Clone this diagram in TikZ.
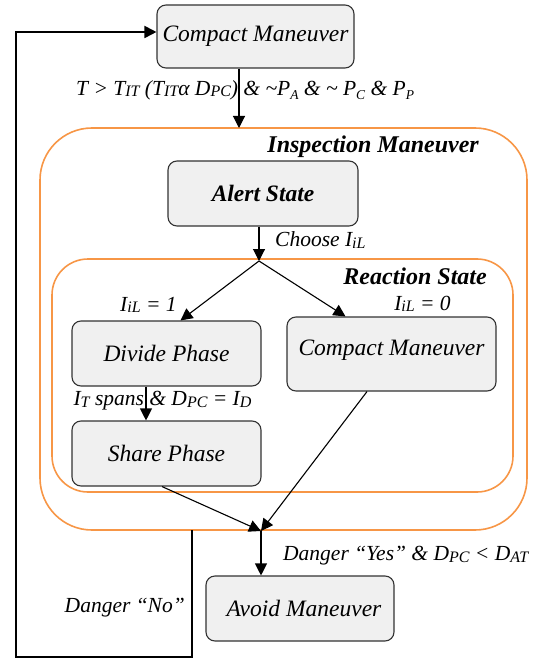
\documentclass[tikz,border=0pt]{standalone}
\usepackage{fontspec}
\setmainfont{Liberation Serif}
\usetikzlibrary{arrows.meta,calc}
\definecolor{boxfill}{HTML}{F0F0F0}
\definecolor{boxline}{HTML}{333333}
\definecolor{frameorange}{HTML}{F79646}
% index set slightly below the baseline, and a deeper, smaller one
\newcommand{\sbs}[1]{\raisebox{-1.5pt}{\fontsize{16}{16}\selectfont #1}}
\newcommand{\dsub}[1]{\raisebox{-4pt}{\fontsize{13.5}{14}\selectfont #1}}
\newcommand{\boxfont}{\fontsize{23.5}{27}\selectfont\itshape}
\newcommand{\lblfont}{\fontsize{21.5}{25}\selectfont\itshape}
\newcommand{\ttlfont}{\fontsize{24}{28}\selectfont\bfseries\itshape}

\begin{document}
\begin{tikzpicture}[x=1pt,y=-1pt,
  statebox/.style={draw=boxline, fill=boxfill, line width=1.1pt,
    rounded corners=9pt, inner sep=0pt, font=\boxfont},
  frame/.style={draw=frameorange, line width=1.6pt},
  flow/.style={draw=black, line width=1.1pt,
    -{Triangle[length=12pt,width=12pt]}},
  back/.style={draw=black, line width=1.8pt,
    -{Triangle[length=12pt,width=12pt]}},
  lbl/.style={inner sep=0pt, font=\lblfont},
  ttl/.style={inner sep=0pt, font=\ttlfont}]

\useasboundingbox (0,0) rectangle (542,660);

% enclosing state frames
\draw[frame, rounded corners=52pt] (40,128) rectangle (527,530);
\draw[frame, rounded corners=36pt] (52,259) rectangle (513,492);
\node[ttl, anchor=east] (tInsp) at (479,147) {Inspection Maneuver};
\node[ttl, anchor=east] (tReact) at (487,276) {Reaction State};

% states
\node[statebox, minimum width=197pt, minimum height=63pt] (cm1) at (255.5,36.5) {Compact Maneuver};
\node[statebox, minimum width=190pt, minimum height=65pt, font=\boxfont\bfseries] (alert) at (263,193.5) {Alert State};
\node[statebox, minimum width=189pt, minimum height=65pt] (divide) at (166.5,353.5) {Divide Phase};
\node[statebox, minimum width=189pt, minimum height=65pt] (share) at (166.5,453.5) {Share Phase};
\node[statebox, minimum width=209pt, minimum height=74pt, text height=14pt, text depth=12pt] (cm2) at (391.5,354) {Compact Maneuver};
\node[statebox, minimum width=188pt, minimum height=65pt] (avoid) at (300,608.5) {\hspace*{8pt}Avoid Maneuver};

% junction points
\coordinate (inTop) at (239,128);
\coordinate (jn) at (259,261);
\coordinate (mg) at (261,531);
\coordinate (fbTop) at (192,530);
\coordinate (fbBot) at (16,657);

% transitions
\draw[flow] (cm1.south -| inTop) -- (inTop);
\draw[flow] (alert.south -| jn) -- (jn);
\draw[flow] (jn) -- ($(divide.north)+(14,0)$);
\draw[flow] (jn) -- ($(cm2.north)+(-46,0)$);
\draw[flow] ($(divide.south)+(-20.5,0)$) -- ($(share.north)+(-20.5,0)$);
\draw[flow] ($(share.south)+(-4.5,0)$) -- (mg);
\draw[flow] ($(cm2.south)+(-24.5,0)$) -- (mg);
\draw[flow] (mg) -- (avoid.north -| mg);
\draw[back] (fbTop) |- (fbBot) |- ($(cm1.west)+(0,-4.5)$);

% transition labels
\node[lbl, anchor=west] (l1) at (76,90) {T > T\sbs{IT} (T\sbs{IT}α D\sbs{PC}) \& \textasciitilde P\dsub{A} \& \textasciitilde\ P\dsub{C} \& P\dsub{P}};
\node[lbl, anchor=west] (l2) at (275,240) {Choose I\sbs{iL}};
\node[lbl] (l3) at (148.5,305) {I\sbs{iL} = 1};
\node[lbl] (l4) at (422.5,304) {I\sbs{iL} = 0};
\node[lbl] (l5) at (162.5,401) {I\sbs{T} spans \& D\sbs{PC} = I\sbs{D}};
\node[lbl, anchor=west] (l6) at (283,556) {Danger “Yes” \& D\sbs{PC} < D\sbs{AT}};
\node[lbl, anchor=east] (l7) at (185,608) {Danger “No”};
\end{tikzpicture}
\end{document}
